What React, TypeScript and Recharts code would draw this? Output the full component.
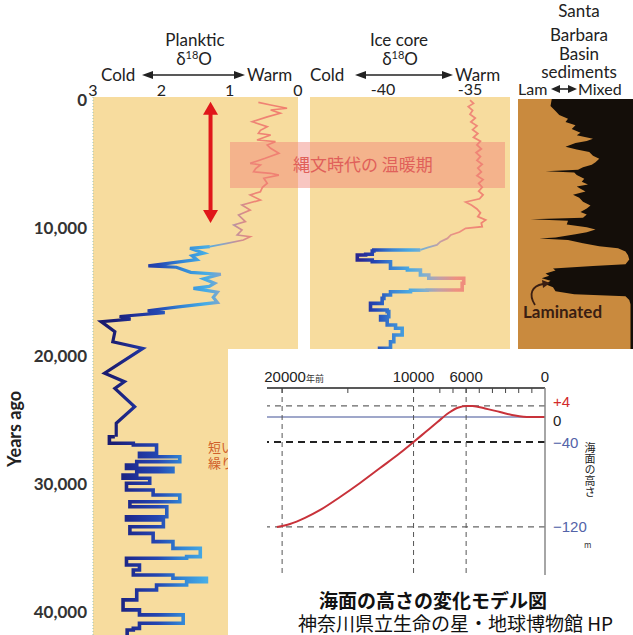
import React from 'react';
import { LineChart, Line, AreaChart, Area, XAxis, YAxis, CartesianGrid, ReferenceLine } from 'recharts';

// ---------------- data ----------------
const AGE_TICKS = [0, 10000, 20000, 30000, 40000];
const PLANKTIC_TICKS = [3, 2, 1, 0];
const ICE_TICKS = [-40, -35];

// Planktic δ18O : [years ago, per mil]
const plankticHolocene: [number, number][] = [
  [165, 0.58], [375, 0.4], [630, 0.16], [765, 0.4], [1020, 0.26], [1300, 0.45], [1680, 0.67], [2070, 0.45],
  [2350, 0.55], [2590, 0.58], [2720, 0.4], [3110, 0.6], [3240, 0.33], [3500, 0.45], [3760, 0.4], [4150, 0.28],
  [4540, 0.48], [4930, 0.7], [5060, 0.55], [5350, 0.62], [5590, 0.65], [5710, 0.4], [5850, 0.28], [6100, 0.5],
  [6490, 0.45], [6800, 0.52], [7150, 0.55], [7400, 0.7], [7800, 0.55], [8190, 0.82], [8580, 0.7], [8970, 0.87],
  [9490, 0.77], [9750, 0.94], [10140, 0.82], [10530, 0.89], [10660, 0.7], [10920, 0.8], [11180, 1.04], [11440, 1.29],
];
const plankticGlacial: [number, number][] = [
  [11440, 1.29], [11570, 1.58], [11950, 1.38], [12150, 1.55], [12450, 1.48], [12950, 2.19], [13050, 1.78],
  [13450, 1.57], [13600, 1.13], [13950, 1.38], [14300, 1.22], [14550, 1.3], [14700, 1.53], [15000, 1.18],
  [15400, 1.24], [15800, 1.18], [16150, 1.75], [16350, 2.06], [16450, 2.2], [16600, 1.95], [16900, 2.61],
  [17100, 2.45], [17300, 2.88], [18090, 2.68], [18870, 2.71], [19390, 2.27], [21330, 2.83], [21990, 2.54],
  [22510, 2.68], [23950, 2.39], [25240, 2.66], [26290, 2.66],
];
const plankticStadials: [number, number][] = [
  [26290, 2.68], [26800, 2.76], [26940, 2.41], [27590, 2.07], [27850, 2.32], [28240, 1.73], [28500, 2.36],
  [28760, 2.51], [29020, 1.83], [29280, 2.36], [29540, 2.56], [29930, 2.17], [30450, 2.51], [30840, 2.12],
  [31370, 1.73], [31760, 2.46], [32540, 1.92], [32800, 2.51], [33320, 1.97], [33840, 2.46], [34490, 2.12],
  [35010, 1.83], [35140, 1.43], [35660, 1.43], [35790, 1.63], [36310, 2.51], [36700, 2.32], [37090, 2.41],
  [37350, 1.83], [37610, 1.34], [37870, 1.63], [38260, 2.07], [39040, 2.36], [39820, 2.56], [40210, 2.32],
  [40860, 1.68], [41260, 2.32], [41390, 2.41], [42500, 2.5],
];

// Ice core δ18O : [years ago, per mil]
const iceHolocene: [number, number][] = [
  [0, -35.0], [250, -34.8], [500, -35.1], [800, -34.85], [1100, -35.0], [1400, -34.7], [1700, -34.95],
  [2000, -34.6], [2300, -34.85], [2600, -34.55], [2900, -34.8], [3200, -34.4], [3500, -34.6], [3800, -34.35],
  [4100, -34.65], [4400, -34.4], [4700, -34.6], [5000, -34.3], [5300, -34.55], [5600, -34.35], [5900, -34.6],
  [6200, -34.25], [6500, -34.5], [6800, -34.3], [7100, -34.5], [7400, -34.25], [7700, -34.45], [7950, -35.25],
  [8200, -34.9], [8500, -34.6], [8800, -34.4], [9100, -34.55], [9350, -34.1], [9600, -34.35], [9880, -34.3],
  [10010, -35.25], [10300, -35.6], [10530, -36.1], [10800, -36.3], [11050, -36.7], [11310, -36.9],
  [11500, -37.4], [11700, -37.85],
];
const iceGlacial: [number, number][] = [
  [11700, -37.85], [11780, -40.53], [12040, -40.62], [12090, -41.0], [12480, -41.48], [12620, -40.62],
  [12740, -39.57], [13130, -39.57], [13270, -38.6], [13660, -37.85], [13910, -37.37], [14300, -35.36],
  [14830, -35.45], [14850, -37.46], [14960, -38.42], [15220, -39.57], [15480, -39.95], [15870, -40.05],
  [16000, -40.72], [16390, -40.72], [16520, -39.76], [16910, -39.67], [17170, -40.14], [17560, -39.76],
  [17820, -39.28], [18340, -38.9], [18870, -39.38], [19380, -39.57], [20000, -40.2], [21000, -39.5],
];

// Santa Barbara Basin sediments: [years ago, laminated share 0..1 from the "Lam" side]
const santaBarbara: [number, number][] = [
  [-250, 0.27], [300, 0.26], [700, 0.3], [1000, 0.33], [1300, 0.4], [1550, 0.38], [1800, 0.46], [2100, 0.43],
  [2400, 0.5], [2600, 0.47], [2870, 0.6], [3050, 0.55], [3200, 0.46], [3500, 0.38], [3700, 0.47], [3900, 0.57],
  [4200, 0.6], [4440, 0.65], [4700, 0.62], [4910, 0.59], [5100, 0.52], [5300, 0.48], [5420, 0.22], [5520, 0.45],
  [5700, 0.47], [6000, 0.53], [6230, 0.51], [6450, 0.56], [6600, 0.47], [6780, 0.5], [7000, 0.54], [7250, 0.44],
  [7500, 0.49], [7800, 0.52], [8100, 0.58], [8340, 0.55], [8600, 0.5], [8800, 0.55], [9050, 0.52], [9180, 0.1],
  [9300, 0.4], [9590, 0.39], [9800, 0.55], [9980, 0.62], [10200, 0.55], [10360, 0.46], [10600, 0.3],
  [10680, 0.17], [10800, 0.4], [11060, 0.52], [11300, 0.65], [11450, 0.8], [11700, 0.86], [12000, 0.88],
  [12330, 0.89], [12700, 0.86], [12850, 0.6], [13030, 0.28], [13200, 0.3], [13420, 0.22], [13600, 0.25],
  [13810, 0.19], [14000, 0.26], [14280, 0.22], [14500, 0.28], [14830, 0.3], [15050, 0.45], [15220, 0.86],
  [15500, 0.89], [15840, 0.9], [20000, 0.9], [30000, 0.9], [46000, 0.9],
];

// Sea level model (inset): [years ago, metres]
const YEAR_TICKS = [20000, 15000, 10000, 8000, 7000, 6000, 5000, 4000, 3000, 2000, 1000, 0];
const YEAR_LABELS = [20000, 10000, 6000, 0];
const SEA_TICKS = [4, 0, -40, -120];
const seaLevel: [number, number][] = [
  [20400, -120], [19400, -117.2], [18260, -111.5], [17100, -104], [15590, -91.8], [14070, -78.6],
  [12550, -64.5], [11030, -50.4], [10000, -40], [9090, -24], [8180, -8], [7340, 1.45], [6580, 3.45],
  [5970, 4], [5520, 4], [4560, 3.1], [3420, 1.8], [2280, 0.55], [1140, 0], [0, 0],
];

// ---------------- styles ----------------
const FONT = 'Lato, "Open Sans", sans-serif';
const JP = '"Noto Sans CJK JP", "Noto Sans", sans-serif';
const NARROW = '"Liberation Sans Narrow", "Liberation Sans", Arial, sans-serif';
const PANEL_BG = '#F7DC9E';
const AGE_DOMAIN: [number, number] = [-250, 46000];

const PLANK_COLORS: [number, string][] = [
  [3, '#19166a'], [2.7, '#1b1e74'], [2.4, '#1f2f96'], [2.05, '#2447b2'], [1.7, '#3285d5'], [1.35, '#46ade6'],
  [1.1, '#8aa4c6'], [0.9, '#c4909a'], [0.65, '#ee8676'], [0, '#f37b6b'],
];
const ICE_COLORS: [number, string][] = [
  [-44.2, '#24207a'], [-41.3, '#2a2892'], [-40.4, '#2449b6'], [-39.5, '#3a82d2'], [-38.5, '#4aa9e2'],
  [-37.6, '#80b0d0'], [-36.8, '#c0a0a8'], [-35.8, '#ee9080'], [-32.7, '#f27a66'],
];

const pts = (arr: [number, number][]) => arr.map(([age, v]) => ({ age, v }));

function gradStops(colors: [number, string][], lo: number, hi: number, reversed: boolean) {
  return colors.map(([v, c], i) => (
    <stop key={i} offset={reversed ? (hi - v) / (hi - lo) : (v - lo) / (hi - lo)} stopColor={c} />
  ));
}

// piecewise-linear scale (schematic, non-linear sea level axis)
const SEA_KNOTS: [number, number][] = [[-165, 0], [-120, 0.257], [-40, 0.711], [0, 0.845], [4, 0.904], [10, 1]];
function piecewiseScale(knots: [number, number][]): any {
  let dom = [knots[0][0], knots[knots.length - 1][0]];
  let rng = [0, 1];
  const frac = (v: number) => {
    const n = knots.length;
    let i = 0;
    if (v >= knots[n - 1][0]) i = n - 2;
    else while (i < n - 2 && v > knots[i + 1][0]) i++;
    const [a, fa] = knots[i];
    const [b, fb] = knots[i + 1];
    return fa + ((fb - fa) * (v - a)) / (b - a);
  };
  const s: any = (v: number) => rng[0] + (rng[1] - rng[0]) * frac(Number(v));
  s.domain = (d?: number[]) => {
    if (d === undefined) return dom.slice();
    dom = d.slice();
    return s;
  };
  s.range = (r?: number[]) => {
    if (r === undefined) return rng.slice();
    rng = r.slice();
    return s;
  };
  s.copy = () => piecewiseScale(knots).domain(dom).range(rng);
  s.ticks = () => knots.map((k) => k[0]);
  return s;
}
const seaScale = piecewiseScale(SEA_KNOTS);

// ---------------- custom shapes ----------------
const RED = '#e0161a';
const DoubleArrow = (p: any) => {
  const { x1, y1, x2, y2 } = p;
  const head = 13;
  const hw = 7.5;
  const top = Math.min(y1, y2);
  const bot = Math.max(y1, y2);
  return (
    <g>
      <line x1={x1} y1={top + head - 1} x2={x2} y2={bot - head + 1} stroke={RED} strokeWidth={4} />
      <polygon points={`${x1},${top} ${x1 - hw},${top + head} ${x1 + hw},${top + head}`} fill={RED} />
      <polygon points={`${x2},${bot} ${x2 - hw},${bot - head} ${x2 + hw},${bot - head}`} fill={RED} />
    </g>
  );
};

const SEA_TICK_STYLE: Record<string, { fill: string; dy: number; text: string }> = {
  '4': { fill: '#d22a2a', dy: -4, text: '+4' },
  '0': { fill: '#222', dy: 4, text: '0' },
  '-40': { fill: '#5363a8', dy: 0, text: '\u221240' },
  '-120': { fill: '#5363a8', dy: 0, text: '\u2212120' },
};
const SeaTick = (p: any) => {
  const { x, y, payload } = p;
  const st = SEA_TICK_STYLE[String(payload.value)];
  if (!st) return null;
  return (
    <text x={x} y={y + st.dy} fill={st.fill} fontSize={15} fontFamily={NARROW} textAnchor="start" dominantBaseline="central">
      {st.text}
    </text>
  );
};

const YearTick = (p: any) => {
  const { x, y, payload } = p;
  const v = payload.value;
  const axisY = y + 6;
  const major = YEAR_LABELS.includes(v);
  return (
    <g>
      {v !== 0 && <line x1={x} x2={x} y1={axisY} y2={axisY + 5} stroke="#444" strokeWidth={1} />}
      {major && (
        <text x={x + (v === 20000 ? 3 : 0)} y={axisY - 6} textAnchor="middle" fontSize={15} fontFamily={NARROW} fill="#222">
          {v}
        </text>
      )}
      {v === 20000 && (
        <text x={x + 24} y={axisY - 6} fontSize={9} fontFamily={JP} fill="#333">
          年前
        </text>
      )}
    </g>
  );
};

const HArrow = ({ x1, x2, y, head = 11, hw = 4, w = 1.6 }: any) => (
  <g>
    <line x1={x1 + head - 1} x2={x2 - head + 1} y1={y} y2={y} stroke="#222" strokeWidth={w} />
    <polygon points={`${x1},${y} ${x1 + head},${y - hw} ${x1 + head},${y + hw}`} fill="#222" />
    <polygon points={`${x2},${y} ${x2 - head},${y - hw} ${x2 - head},${y + hw}`} fill="#222" />
  </g>
);

const tickStyle = { fontSize: 16, fontFamily: FONT, fill: '#222' };

export default function App() {
  return (
    <div style={{ position: 'absolute', left: 0, top: 0, width: 633, height: 635, overflow: 'hidden', background: '#fff' }}>
      {/* Planktic panel */}
      <div style={{ position: 'absolute', left: 0, top: 0 }}>
        <LineChart width={312} height={689} layout="vertical" margin={{ top: 77, right: 14, bottom: 0, left: 0 }}>
          <defs>
            <linearGradient id="plankGrad" gradientUnits="userSpaceOnUse" x1={93} y1={0} x2={298} y2={0}>
              {gradStops(PLANK_COLORS, 0, 3, true)}
            </linearGradient>
          </defs>
          <CartesianGrid fill={PANEL_BG} horizontal={false} vertical={false} />
          <XAxis
            type="number" orientation="top" domain={[0, 3]} reversed ticks={PLANKTIC_TICKS} interval={0}
            height={20} tickSize={0} tickMargin={1} axisLine={false} tick={tickStyle} allowDataOverflow
          />
          <YAxis
            type="number" dataKey="age" domain={AGE_DOMAIN} ticks={AGE_TICKS} interval={0} width={93}
            tickSize={0} tickMargin={6} allowDataOverflow
            tickFormatter={(v: number) => v.toLocaleString('en-US')}
            tick={{ fontSize: 17, fontFamily: FONT, fontWeight: 700, fill: '#333' }}
            axisLine={{ stroke: '#9fc2b4', strokeDasharray: '1 2' }}
          />
          <ReferenceLine segment={[{ x: 1.28, y: 120 }, { x: 1.28, y: 9600 }]} shape={DoubleArrow} />
          <Line data={pts(plankticHolocene)} dataKey="v" type="linear" stroke="url(#plankGrad)" strokeWidth={1.7} dot={false} isAnimationActive={false} />
          <Line data={pts(plankticGlacial)} dataKey="v" type="linear" stroke="url(#plankGrad)" strokeWidth={3.2} dot={false} isAnimationActive={false} />
          <Line data={pts(plankticStadials)} dataKey="v" type="stepAfter" stroke="url(#plankGrad)" strokeWidth={3.6} dot={false} isAnimationActive={false} />
        </LineChart>
      </div>

      {/* Ice core panel */}
      <div style={{ position: 'absolute', left: 0, top: 0 }}>
        <LineChart width={633} height={689} layout="vertical" margin={{ top: 77, right: 123, bottom: 0, left: 310 }}>
          <defs>
            <linearGradient id="iceGrad" gradientUnits="userSpaceOnUse" x1={310} y1={0} x2={510} y2={0}>
              {gradStops(ICE_COLORS, -44.2, -32.7, false)}
            </linearGradient>
          </defs>
          <CartesianGrid fill={PANEL_BG} horizontal={false} vertical={false} />
          <XAxis
            type="number" orientation="top" domain={[-44.2, -32.7]} ticks={ICE_TICKS} interval={0}
            height={20} tickSize={0} tickMargin={2} axisLine={false} tick={tickStyle} allowDataOverflow
          />
          <YAxis type="number" dataKey="age" domain={AGE_DOMAIN} hide allowDataOverflow />
          <Line data={pts(iceHolocene)} dataKey="v" type="linear" stroke="url(#iceGrad)" strokeWidth={1.8} dot={false} isAnimationActive={false} />
          <Line data={pts(iceGlacial)} dataKey="v" type="stepAfter" stroke="url(#iceGrad)" strokeWidth={3.6} dot={false} isAnimationActive={false} />
        </LineChart>
      </div>

      {/* Santa Barbara panel */}
      <div style={{ position: 'absolute', left: 0, top: 0 }}>
        <AreaChart width={650} height={689} layout="vertical" data={pts(santaBarbara)} margin={{ top: 99, right: 7, bottom: 0, left: 518 }}>
          <CartesianGrid fill="#140e09" horizontal={false} vertical={false} />
          <XAxis type="number" domain={[0, 1]} hide allowDataOverflow />
          <YAxis type="number" dataKey="age" domain={AGE_DOMAIN} hide allowDataOverflow />
          <Area dataKey="v" type="linear" fill="#c98a3e" fillOpacity={1} stroke="none" isAnimationActive={false} />
        </AreaChart>
      </div>

      {/* Jomon warm period band */}
      <div style={{ position: 'absolute', left: 230, top: 142, width: 275, height: 46, background: 'rgba(240,128,118,0.45)' }} />

      {/* titles and annotations */}
      <svg width={633} height={635} style={{ position: 'absolute', left: 0, top: 0 }}>
        <g fontFamily={FONT} fill="#222" fontSize={17}>
          <text x={195} y={46} textAnchor="middle">Planktic</text>
          <text x={194} y={65} textAnchor="middle">δ<tspan fontSize={11} dy={-6}>18</tspan><tspan dy={6}>O</tspan></text>
          <text x={101} y={81}>Cold</text>
          <text x={247} y={81}>Warm</text>
          <text x={399} y={46} textAnchor="middle">Ice core</text>
          <text x={400} y={65} textAnchor="middle">δ<tspan fontSize={11} dy={-6}>18</tspan><tspan dy={6}>O</tspan></text>
          <text x={310} y={81}>Cold</text>
          <text x={455} y={81}>Warm</text>
          <text x={579} y={17} textAnchor="middle">Santa</text>
          <text x={579} y={41} textAnchor="middle">Barbara</text>
          <text x={579} y={60} textAnchor="middle">Basin</text>
          <text x={579} y={78} textAnchor="middle">sediments</text>
          <text x={518} y={95} fontSize={16}>Lam</text>
          <text x={578} y={95} fontSize={16}>Mixed</text>
          <text x={14} y={429} textAnchor="middle" fontSize={18} fontWeight={700} transform="rotate(-90 14 429)" dominantBaseline="central">Years ago</text>
        </g>
        <HArrow x1={142} x2={245} y={75} />
        <HArrow x1={355} x2={453} y={75} />
        <HArrow x1={551} x2={577} y={89} head={9} />
        <text x={293} y={171} fontFamily={JP} fontSize={17} fill="#e0605a">縄文時代の 温暖期</text>
        <g fontFamily={JP} fontSize={13} fill="#d0602a">
          <text x={208} y={452}>短い</text>
          <text x={208} y={468}>繰り</text>
        </g>
        <text x={523} y={318} fontFamily={FONT} fontSize={17} fontWeight={700} fill="#3a1e12">Laminated</text>
        <path d="M535,305 C528,294 532,286 543,284" stroke="#3a1e12" strokeWidth={1.8} fill="none" />
        <polygon points="550,283 542,280 543,288" fill="#3a1e12" />
      </svg>

      {/* Inset: sea-level model */}
      <div style={{ position: 'absolute', left: 228, top: 349, width: 405, height: 286, background: '#fff' }}>
        <LineChart width={405} height={286} data={pts(seaLevel)} margin={{ top: 19, right: 0, bottom: 60, left: 39 }}>
          <XAxis
            type="number" dataKey="age" orientation="top" domain={[0, 21150]} reversed ticks={YEAR_TICKS} interval={0}
            height={20} tickSize={0} tickMargin={6} tick={<YearTick />} axisLine={{ stroke: '#222', strokeWidth: 1.5 }}
            allowDataOverflow
          />
          <YAxis
            type="number" orientation="right" scale={seaScale} domain={[-165, 10]} ticks={SEA_TICKS} interval={0}
            width={88} tickSize={0} tickMargin={8} tick={<SeaTick />} axisLine={{ stroke: '#888', strokeWidth: 1.5 }}
            allowDataOverflow
          />
          <ReferenceLine y={4} stroke="#666" strokeDasharray="6 5" strokeWidth={1.2} />
          <ReferenceLine y={0} stroke="#7f8ab8" strokeWidth={1.6} />
          <ReferenceLine y={-40} stroke="#222" strokeDasharray="7 5" strokeWidth={2} />
          <ReferenceLine y={-120} stroke="#666" strokeDasharray="6 5" strokeWidth={1.2} />
          <ReferenceLine x={20000} stroke="#555" strokeDasharray="5 4" strokeWidth={1} />
          <ReferenceLine x={10000} stroke="#555" strokeDasharray="5 4" strokeWidth={1} />
          <ReferenceLine x={6000} stroke="#555" strokeDasharray="5 4" strokeWidth={1} />
          <Line dataKey="v" type="monotone" stroke="#c8323a" strokeWidth={2} dot={false} isAnimationActive={false} />
        </LineChart>
        <div style={{ position: 'absolute', left: 355, top: 93, width: 12, fontFamily: JP, fontSize: 11, lineHeight: '11px', writingMode: 'vertical-rl', color: '#222' }}>
          海面の高さ
        </div>
        <div style={{ position: 'absolute', left: 356, top: 190, fontFamily: JP, fontSize: 8, color: '#333' }}>m</div>
        <div style={{ position: 'absolute', left: 0, width: 410, top: 238, textAlign: 'center', fontFamily: JP, fontSize: 19, fontWeight: 700, color: '#111', lineHeight: '26px' }}>
          海面の高さの変化モデル図
        </div>
        <div style={{ position: 'absolute', left: 70, top: 262, fontFamily: JP, fontSize: 19, color: '#111', lineHeight: '24px', whiteSpace: 'nowrap' }}>
          神奈川県立生命の星・地球博物館 HP
        </div>
      </div>
    </div>
  );
}
